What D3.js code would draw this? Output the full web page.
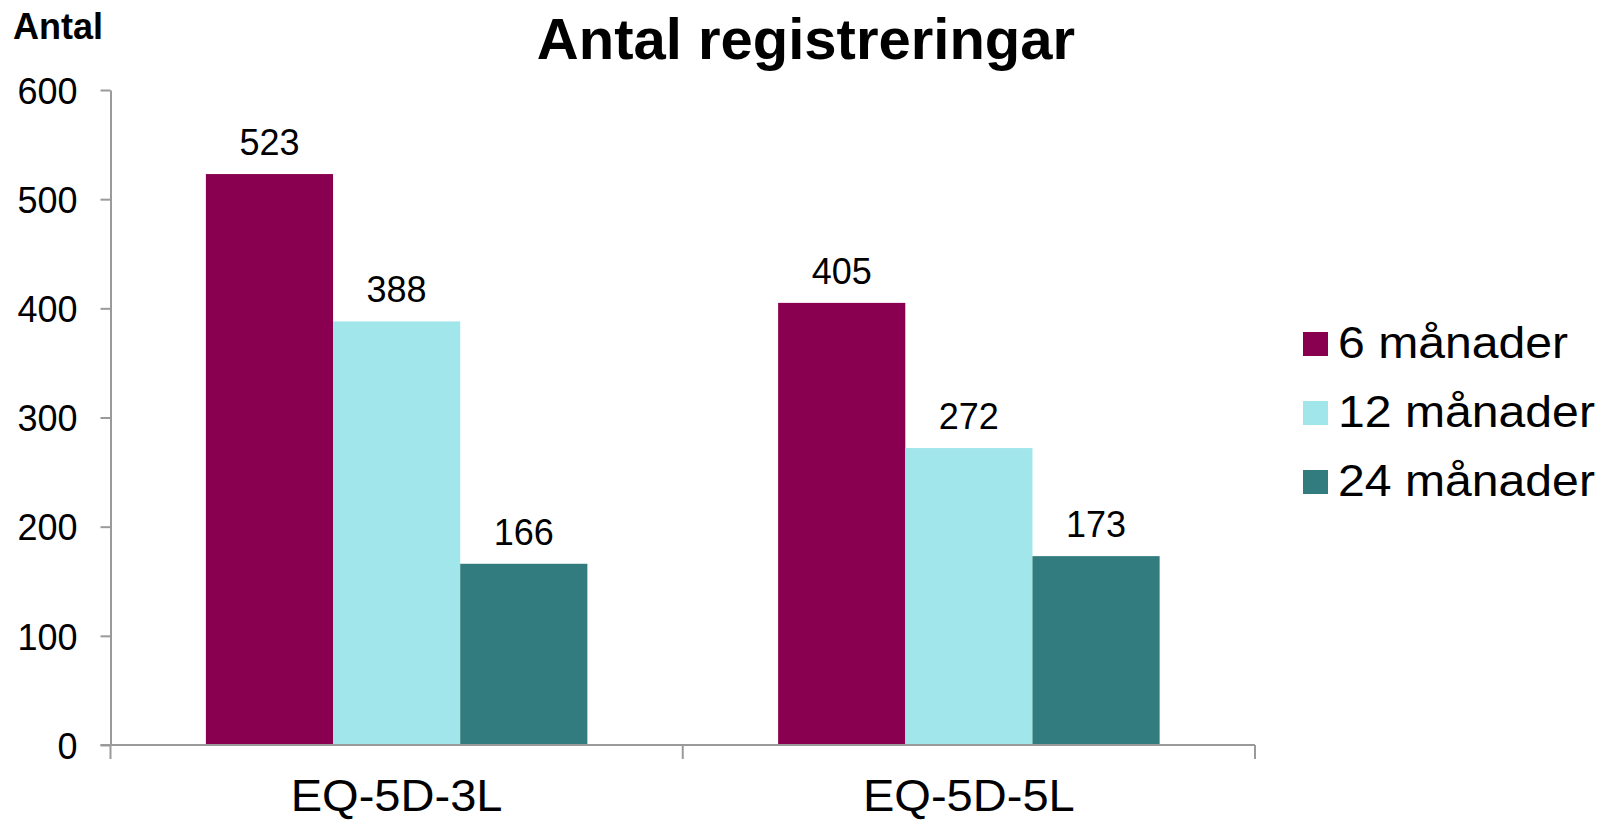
<!DOCTYPE html>
<html>
<head>
<meta charset="utf-8">
<script src="https://cdn.jsdelivr.net/npm/d3@7"></script>
<style>
  html, body { margin: 0; padding: 0; background: #fff; }
  svg { display: block; }
  text { font-family: "Liberation Sans", Arial, sans-serif; fill: #000; }
</style>
</head>
<body>
<svg id="chart" width="1606" height="822"></svg>
<script>
const categories = ["EQ-5D-3L", "EQ-5D-5L"];
const seriesNames = ["6 månader", "12 månader", "24 månader"];
const values6 = [523, 405];
const values12 = [388, 272];
const values24 = [166, 173];
const seriesColors = ["#8A0050", "#A0E6EA", "#327B7E"];
const yTicks = [0, 100, 200, 300, 400, 500, 600];
const chartTitle = "Antal registreringar";
const yTitle = "Antal";

const seriesValues = [values6, values12, values24];

const svg = d3.select("#chart");
const mLeft = 110.5, mRight = 1255, mTop = 90, mBottom = 745;

const y = d3.scaleLinear().domain([0, 600]).range([mBottom, mTop]);
const x0 = d3.scaleBand().domain(categories).range([mLeft, mRight]).padding(0);
const bw = x0.bandwidth();
const x1 = d3.scaleBand().domain(seriesNames).range([bw / 6, bw * 5 / 6]).padding(0);

const axisColor = "#9a9a9a";

// bars
categories.forEach((cat, ci) => {
  const g = svg.append("g").attr("transform", `translate(${x0(cat)},0)`);
  seriesNames.forEach((s, si) => {
    const v = seriesValues[si][ci];
    g.append("rect")
      .attr("x", x1(s))
      .attr("y", y(v))
      .attr("width", x1.bandwidth())
      .attr("height", y(0) - y(v))
      .attr("fill", seriesColors[si]);
    g.append("text")
      .attr("x", x1(s) + x1.bandwidth() / 2)
      .attr("y", y(v) - 19)
      .attr("text-anchor", "middle")
      .attr("font-size", 36)
      .text(v);
  });
});

// y axis
const yAxis = d3.axisLeft(y).tickValues(yTicks).tickSize(10).tickPadding(23).tickSizeOuter(0);
const ya = svg.append("g").attr("transform", `translate(${mLeft},0)`).call(yAxis);
ya.select(".domain").attr("stroke", axisColor).attr("stroke-width", 2);
ya.selectAll(".tick line").attr("stroke", axisColor).attr("stroke-width", 2);
ya.selectAll(".tick text").attr("font-size", 36).attr("font-family", "Liberation Sans, Arial, sans-serif").attr("fill", "#000").attr("dy", "0.37em");

// x axis
const xa = svg.append("g").attr("transform", `translate(0,${mBottom})`);
xa.append("line").attr("x1", mLeft - 10).attr("x2", mRight).attr("y1", 0).attr("y2", 0)
  .attr("stroke", axisColor).attr("stroke-width", 2);
const boundaries = categories.map(c => x0(c)).concat([x0(categories[categories.length - 1]) + bw]);
xa.selectAll("line.sep").data(boundaries).join("line").attr("class", "sep")
  .attr("x1", d => d).attr("x2", d => d).attr("y1", 0).attr("y2", 14)
  .attr("stroke", axisColor).attr("stroke-width", 2);
xa.selectAll("text.cat").data(categories).join("text").attr("class", "cat")
  .attr("transform", d => `translate(${x0(d) + bw / 2},66) scale(1.07,1)`)
  .attr("text-anchor", "middle")
  .attr("font-size", 44)
  .text(d => d);

// titles
svg.append("text").attr("x", 806).attr("y", 59).attr("text-anchor", "middle")
  .attr("font-size", 58).attr("font-weight", "bold").text(chartTitle);
svg.append("text").attr("x", 13).attr("y", 39)
  .attr("font-size", 36).attr("font-weight", "bold").text(yTitle);

// legend
const lg = svg.append("g").attr("transform", "translate(1303,332)");
seriesNames.forEach((s, i) => {
  lg.append("rect").attr("x", 0).attr("y", i * 69).attr("width", 25).attr("height", 24).attr("fill", seriesColors[i]);
  lg.append("text").attr("transform", `translate(35,${i * 69 + 26}) scale(1.07,1)`).attr("font-size", 45).text(s);
});
</script>
</body>
</html>
